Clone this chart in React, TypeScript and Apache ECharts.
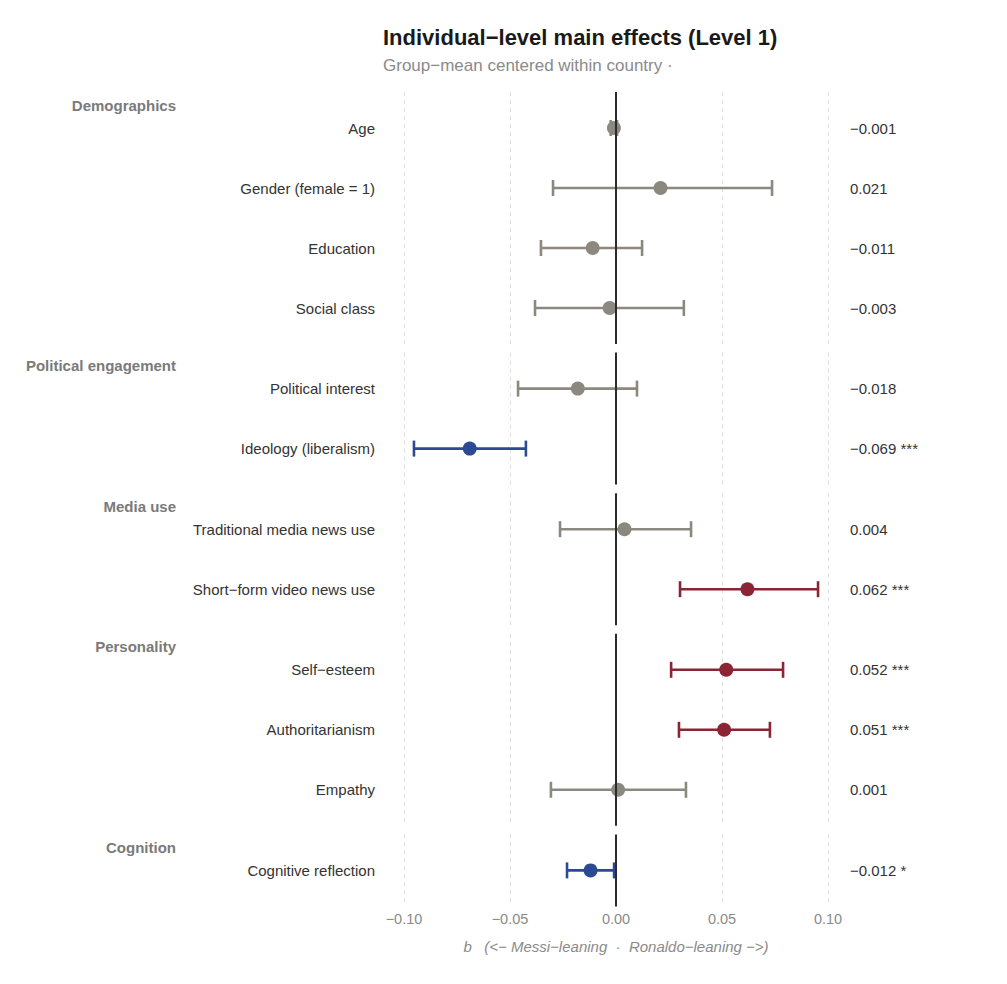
import React, { useEffect, useRef } from "react";
import * as echarts from "echarts";

// Predictor groups (one panel each) and the predictors inside them
const groups = ["Demographics", "Political engagement", "Media use", "Personality", "Cognition"];
const groupIndex = [0, 0, 0, 0, 1, 1, 2, 2, 3, 3, 3, 4];
const predictors = [
  "Age",
  "Gender (female = 1)",
  "Education",
  "Social class",
  "Political interest",
  "Ideology (liberalism)",
  "Traditional media news use",
  "Short\u2212form video news use",
  "Self\u2212esteem",
  "Authoritarianism",
  "Empathy",
  "Cognitive reflection",
];
// Coefficient estimates and 95% confidence limits
const estimates = [-0.001, 0.021, -0.011, -0.003, -0.018, -0.069, 0.004, 0.062, 0.052, 0.051, 0.001, -0.012];
const ciLow = [-0.0025, -0.0297, -0.0354, -0.0382, -0.0462, -0.0953, -0.0264, 0.0302, 0.026, 0.0297, -0.0307, -0.0231];
const ciHigh = [0.0005, 0.0736, 0.0123, 0.032, 0.0099, -0.0425, 0.0354, 0.0953, 0.0788, 0.0726, 0.033, -0.0009];
const stars = ["", "", "", "", "", "***", "", "***", "***", "***", "", "*"];

const FONT = "'Liberation Sans', Arial, Helvetica, sans-serif";
const GREY = "#8b897f";
const RED = "#8b2434";
const BLUE = "#2c4a93";

const minus = (s: string) => s.replace(/-/g, "\u2212");
const fmtEst = (v: number) => minus(v.toFixed(3));
const colorOf = (i: number) => (stars[i] ? (estimates[i] > 0 ? RED : BLUE) : GREY);

export default function App() {
  const ref = useRef<HTMLDivElement>(null);

  useEffect(() => {
    const chart = echarts.init(ref.current!, null, { renderer: "svg" });

    const unit = 60; // px per row
    const pad = 0.6; // row padding at top/bottom of each panel
    const gap = 8.6;
    const left = 404;
    const width = 424;

    const grids: any[] = [];
    const xAxes: any[] = [];
    const yAxes: any[] = [];
    const series: any[] = [];
    const graphics: any[] = [];

    let top = 92;
    groups.forEach((g, gi) => {
      const rows = predictors.map((_, i) => i).filter((i) => groupIndex[i] === gi);
      const n = rows.length;
      const h = (n - 1 + 2 * pad) * unit;
      const last = gi === groups.length - 1;
      grids.push({ left, width, top, height: h, containLabel: false });

      graphics.push({
        type: "text",
        x: 176,
        y: top + 13,
        style: {
          text: g,
          fill: "#7a7a7a",
          font: `bold 15px ${FONT}`,
          align: "right",
          verticalAlign: "middle",
        },
      });

      xAxes.push({
        type: "value",
        gridIndex: gi,
        min: -0.1,
        max: 0.1,
        interval: 0.05,
        axisLine: { show: false },
        axisTick: { show: false },
        axisLabel: {
          show: last,
          margin: 5,
          color: "#8a8a8a",
          fontSize: 14.5,
          fontFamily: FONT,
          formatter: (v: number) => minus(v.toFixed(2)),
        },
        splitLine: { show: true, lineStyle: { color: "#dedede", type: [4, 4], width: 1 } },
        name: last ? "b   (<\u2212 Messi\u2212leaning  \u00b7  Ronaldo\u2212leaning \u2212>)" : "",
        nameLocation: "middle",
        nameGap: 33,
        nameTextStyle: { color: "#8a8a8a", fontSize: 15, fontStyle: "italic", fontFamily: FONT },
      });

      const yBase = {
        type: "value",
        gridIndex: gi,
        min: -pad,
        max: n - 1 + pad,
        inverse: true,
        axisLine: { show: false },
        axisTick: { show: false },
        splitLine: { show: false },
      };
      yAxes.push({
        ...yBase,
        position: "left",
        axisLabel: {
          customValues: rows.map((_, j) => j),
          margin: 29,
          color: "#333333",
          fontSize: 15,
          fontFamily: FONT,
          formatter: (v: number) => predictors[rows[Math.round(v)]] ?? "",
        },
      });
      yAxes.push({
        ...yBase,
        position: "right",
        axisLabel: {
          customValues: rows.map((_, j) => j),
          margin: 22,
          color: "#333333",
          fontSize: 15,
          fontFamily: FONT,
          align: "left",
          formatter: (v: number) => {
            const i = rows[Math.round(v)];
            if (i === undefined) return "";
            return fmtEst(estimates[i]) + (stars[i] ? " " + stars[i] : "");
          },
        },
      });

      // zero reference line
      series.push({
        type: "scatter",
        xAxisIndex: gi,
        yAxisIndex: gi * 2,
        data: [],
        z: 1,
        markLine: {
          silent: true,
          symbol: ["none", "none"],
          label: { show: false },
          lineStyle: { color: "#2b2b2b", width: 2, type: "solid" },
          data: [{ xAxis: 0 }],
        },
      });

      // confidence-interval whiskers
      series.push({
        type: "custom",
        xAxisIndex: gi,
        yAxisIndex: gi * 2,
        z: 2,
        data: rows.map((i, j) => [ciLow[i], ciHigh[i], j, i]),
        encode: { x: [0, 1], y: 2 },
        renderItem: (params: any, api: any) => {
          const lo = api.coord([api.value(0), api.value(2)]);
          const hi = api.coord([api.value(1), api.value(2)]);
          const color = colorOf(api.value(3));
          const cap = 8;
          const style = { stroke: color, lineWidth: 2.6 };
          return {
            type: "group",
            children: [
              { type: "line", shape: { x1: lo[0], y1: lo[1], x2: hi[0], y2: hi[1] }, style },
              { type: "line", shape: { x1: lo[0], y1: lo[1] - cap, x2: lo[0], y2: lo[1] + cap }, style },
              { type: "line", shape: { x1: hi[0], y1: hi[1] - cap, x2: hi[0], y2: hi[1] + cap }, style },
            ],
          };
        },
      });

      // point estimates
      series.push({
        type: "scatter",
        xAxisIndex: gi,
        yAxisIndex: gi * 2,
        z: 3,
        symbol: "circle",
        symbolSize: 14,
        itemStyle: { opacity: 1 },
        data: rows.map((i, j) => ({ value: [estimates[i], j], itemStyle: { color: colorOf(i), opacity: 1 } })),
      });

      top += h + gap;
    });

    graphics.push({
      type: "text",
      x: 383,
      y: 37,
      style: {
        text: "Individual\u2212level main effects (Level 1)",
        fill: "#1a1a1a",
        font: `bold 22px ${FONT}`,
        verticalAlign: "middle",
      },
    });
    graphics.push({
      type: "text",
      x: 383,
      y: 65,
      style: {
        text: "Group\u2212mean centered within country \u00b7",
        fill: "#8a8a8a",
        font: `17px ${FONT}`,
        verticalAlign: "middle",
      },
    });

    chart.setOption({
      animation: false,
      backgroundColor: "#ffffff",
      grid: grids,
      xAxis: xAxes,
      yAxis: yAxes,
      series,
      graphic: graphics,
    });

    return () => chart.dispose();
  }, []);

  return (
    <div
      ref={ref}
      style={{ position: "fixed", left: 0, top: 0, width: 1007, height: 984, background: "#fff" }}
    />
  );
}
